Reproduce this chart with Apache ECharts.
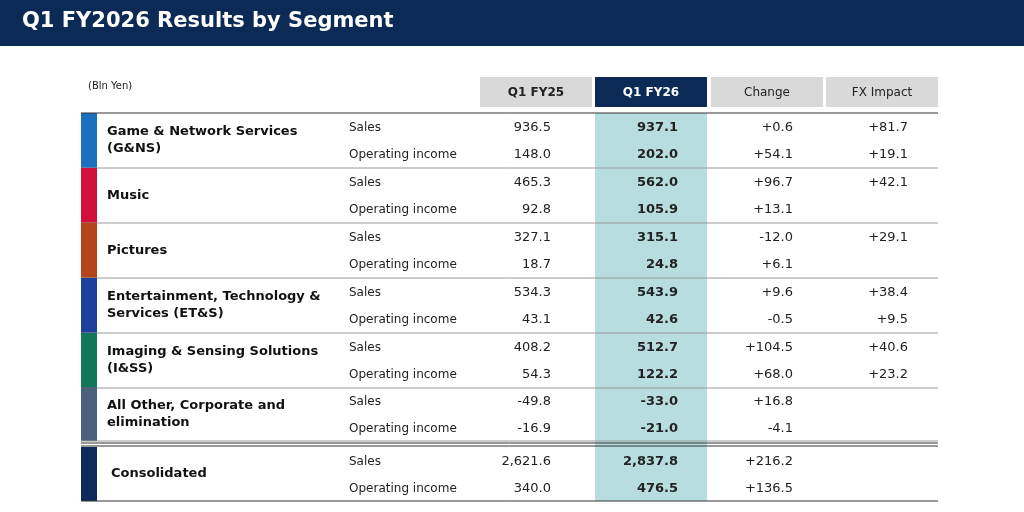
<!DOCTYPE html>
<html>
<head>
<meta charset="utf-8">
<script src="https://cdn.jsdelivr.net/npm/echarts@6/dist/echarts.min.js"></script>
<style>html,body{margin:0;padding:0;background:#fff}#c{width:1024px;height:512px}</style>
</head>
<body>
<div id="c"></div>
<script>
// table data
var columns = ['Q1 FY25', 'Q1 FY26', 'Change', 'FX Impact'];
var segments = ['Game & Network Services\n(G&NS)', 'Music', 'Pictures', 'Entertainment, Technology &\nServices (ET&S)', 'Imaging & Sensing Solutions\n(I&SS)', 'All Other, Corporate and\nelimination', 'Consolidated'];
var segColors = ['#1a6fc0', '#d0103a', '#b5441a', '#1d3f9e', '#11795a', '#4a607c', '#0e2a5a'];
var rowLabels = ['Sales', 'Operating income'];
var fy25 = [['936.5','148.0'],['465.3','92.8'],['327.1','18.7'],['534.3','43.1'],['408.2','54.3'],['-49.8','-16.9'],['2,621.6','340.0']];
var fy26 = [['937.1','202.0'],['562.0','105.9'],['315.1','24.8'],['543.9','42.6'],['512.7','122.2'],['-33.0','-21.0'],['2,837.8','476.5']];
var change = [['+0.6','+54.1'],['+96.7','+13.1'],['-12.0','+6.1'],['+9.6','-0.5'],['+104.5','+68.0'],['+16.8','-4.1'],['+216.2','+136.5']];
var fx = [['+81.7','+19.1'],['+42.1',''],['+29.1',''],['+38.4','+9.5'],['+40.6','+23.2'],['',''],['','']];

var font = 'Verdana, "DejaVu Sans", sans-serif';
var g = [];
g.push({type:'rect',shape:{x:0,y:0,width:1024,height:46},style:{fill:'#0b2a55'}});
g.push({type:'text',x:22,y:22,style:{text:'Q1 FY2026 Results by Segment',fill:'#fff',font:'bold 21px '+font,verticalAlign:'middle'}});
g.push({type:'text',x:88,y:86,style:{text:'(Bln Yen)',fill:'#222',font:'10px '+font,verticalAlign:'middle'}});
var colX = [480, 595, 711, 826];
columns.forEach(function(c,i){
  var hi = i===1;
  g.push({type:'rect',shape:{x:colX[i],y:77,width:112,height:30},style:{fill:hi?'#0b2a55':'#d9d9d9'}});
  g.push({type:'text',x:colX[i]+56,y:93,style:{text:c,fill:hi?'#fff':'#222',font:(i<2?'bold ':'')+'12px '+font,align:'center',verticalAlign:'middle'}});
});
g.push({type:'rect',shape:{x:595,y:113,width:112,height:388},style:{fill:'#b7dde0'}});
var tops = [113,168,223,278,333,387,447];
var valX = [551, 678, 793, 908];
segments.forEach(function(s,i){
  var t = tops[i], h = i===5 ? 54 : (i===6 ? 54 : 55);
  g.push({type:'rect',shape:{x:81,y:t,width:16,height:h},style:{fill:segColors[i]}});
  g.push({type:'text',x:i===6?111:107,y:t+h/2,style:{text:s,fill:'#111',font:'bold 13px '+font,verticalAlign:'middle',lineHeight:17}});
  [0,1].forEach(function(r){
    var y = t + (r===0 ? 15 : 42);
    g.push({type:'text',x:349,y:y,style:{text:rowLabels[r],fill:'#222',font:'12px '+font,verticalAlign:'middle'}});
    [fy25,fy26,change,fx].forEach(function(arr,k){
      g.push({type:'text',x:valX[k],y:y,style:{text:arr[i][r],fill:'#222',font:(k===1?'bold ':'')+'13px '+font,align:'right',verticalAlign:'middle'}});
    });
  });
  g.push({type:'line',shape:{x1:81,y1:t+h,x2:938,y2:t+h},style:{stroke:i===6?'#333':'#999',lineWidth:1}});
});
g.push({type:'line',shape:{x1:81,y1:113,x2:938,y2:113},style:{stroke:'#333',lineWidth:1}});
g.push({type:'line',shape:{x1:81,y1:443,x2:938,y2:443},style:{stroke:'#333',lineWidth:1}});
g.push({type:'line',shape:{x1:81,y1:446,x2:938,y2:446},style:{stroke:'#333',lineWidth:1}});

var chart = echarts.init(document.getElementById('c'));
chart.setOption({animation:false,graphic:g});
</script>
</body>
</html>
